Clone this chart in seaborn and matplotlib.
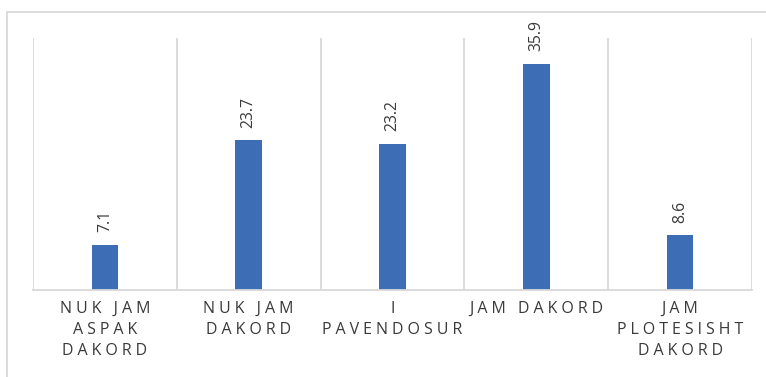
import matplotlib
matplotlib.use("Agg")
import matplotlib.pyplot as plt
from matplotlib.patches import Rectangle
import seaborn as sns
import pandas as pd

# Survey answers and their shares (%)
categories = ["NUK JAM\nASPAK\nDAKORD", "NUK JAM\nDAKORD", "I\nPAVENDOSUR",
              "JAM DAKORD", "JAM\nPLOTESISHT\nDAKORD"]
values = [7.1, 23.7, 23.2, 35.9, 8.6]

sns.set_style("white")
plt.rcParams["font.family"] = ["Open Sans", "DejaVu Sans"]

BAR = "#3C6DB5"
GRID = "#D9D9D9"
TEXT = "#3A3A3A"

W, H = 766, 377
fig = plt.figure(figsize=(W / 100, H / 100), dpi=100)
ax = fig.add_axes([33 / W, 1 - 289.5 / H, (752 - 33) / W, (289.5 - 38) / H])

df = pd.DataFrame({"cat": categories, "val": values})
sns.barplot(data=df, x="cat", y="val", color=BAR, width=0.186,
            saturation=1, ax=ax, edgecolor="none")

ax.set_ylim(0, 40)
ax.set_xlim(-0.5, len(categories) - 0.5)
ax.set_xlabel("")
ax.set_ylabel("")
ax.set_yticks([])

# vertical separators between categories
for b in [i - 0.5 for i in range(len(categories) + 1)]:
    ax.axvline(b, color=GRID, lw=1.3, zorder=0)
for s in ["top", "left", "right"]:
    ax.spines[s].set_visible(False)
ax.spines["bottom"].set_color(GRID)
ax.spines["bottom"].set_linewidth(1.3)


def spaced(label):
    # widen tracking with four-per-em spaces between letters
    return "\n".join("\u2005".join(line) for line in label.split("\n"))


ax.set_xticks(range(len(categories)))
ax.set_xticklabels([spaced(c) for c in categories], color=TEXT,
                   fontsize=11.5, linespacing=1.42,
                   family=["Open Sans", "DejaVu Sans"])
ax.tick_params(axis="x", length=0, pad=8)

# value labels above the bars
for i, v in enumerate(values):
    ax.annotate(f"{v}", xy=(i, v), xytext=(0, 9), textcoords="offset points",
                rotation=90, ha="center", va="bottom", fontsize=11.3, color=TEXT)

# outer chart frame
fig.patches.append(Rectangle((7 / W, -0.1), 1.2, 1 - 12 / H + 0.1,
                             transform=fig.transFigure, fill=False,
                             edgecolor=GRID, lw=1.3, zorder=-1))

fig.savefig("out.png", dpi=100)
